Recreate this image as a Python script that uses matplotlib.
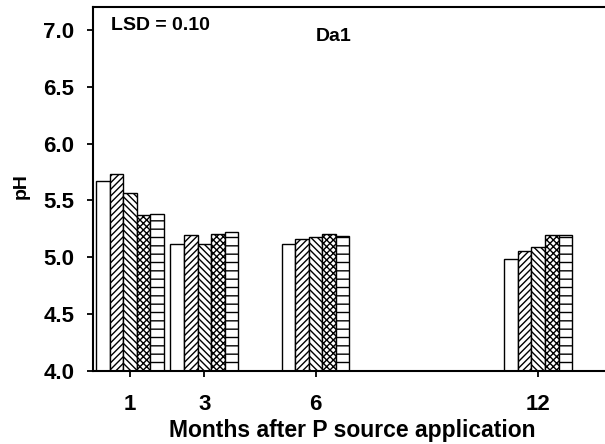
import matplotlib
matplotlib.use("Agg")
import matplotlib.pyplot as plt
import numpy as np

plt.rcParams['font.family'] = ['Liberation Sans', 'DejaVu Sans']
plt.rcParams['hatch.linewidth'] = 1.0

months = [1, 3, 6, 12]
month_labels = ["1", "3", "6", "12"]
treatments = ["T1", "T2", "T3", "T4", "T5"]
ph_values = [
    [5.67, 5.12, 5.12, 4.99],
    [5.73, 5.20, 5.16, 5.06],
    [5.57, 5.12, 5.18, 5.09],
    [5.37, 5.21, 5.21, 5.20],
    [5.38, 5.22, 5.19, 5.20],
]
hatches = ["", "/////", "\\\\\\\\\\", "xxxxx", "--"]

fig = plt.figure(figsize=(6.05, 4.44), dpi=100)
ax = fig.add_axes([0.1537, 0.1633, 0.8463, 0.8216])

width = 0.365
x = np.array(months, dtype=float)
for i, (vals, h) in enumerate(zip(ph_values, hatches)):
    offs = (i - 2) * width
    ax.bar(x + offs, np.array(vals) - 4.0, bottom=4.0, width=width,
           color="white", edgecolor="black", linewidth=1.0, hatch=h)

ax.set_xlim(0, 13.8)
ax.set_ylim(4.0, 7.2)
ax.set_xticks(months)
ax.set_xticklabels(month_labels)
yt = np.arange(4.0, 7.01, 0.5)
ax.set_yticks(yt)
ax.set_yticklabels([f"{v:.1f}" for v in yt])

for s in ["left", "top", "bottom"]:
    ax.spines[s].set_linewidth(1.5)
ax.spines["right"].set_visible(False)

ax.tick_params(axis="both", direction="out", width=1.3, labelsize=16)
ax.tick_params(axis="y", length=4.5, pad=9)
ax.tick_params(axis="x", length=4, pad=12.5)
for lbl in ax.get_xticklabels() + ax.get_yticklabels():
    lbl.set_fontweight("bold")

ax.set_xlabel("Months after P source application", fontsize=16.5,
              fontweight="bold")
ax.xaxis.set_label_coords(0.507, -0.129)
ax.set_ylabel("pH", fontsize=14, fontweight="bold")
ax.yaxis.set_label_coords(-0.123, 0.508)

ax.text(0.48, 7.0, "LSD = 0.10", fontsize=14, fontweight="bold",
        va="baseline", ha="left")
ax.text(6.0, 6.90, "Da1", fontsize=14, fontweight="bold",
        va="baseline", ha="left")

fig.savefig("out.png", dpi=100)
